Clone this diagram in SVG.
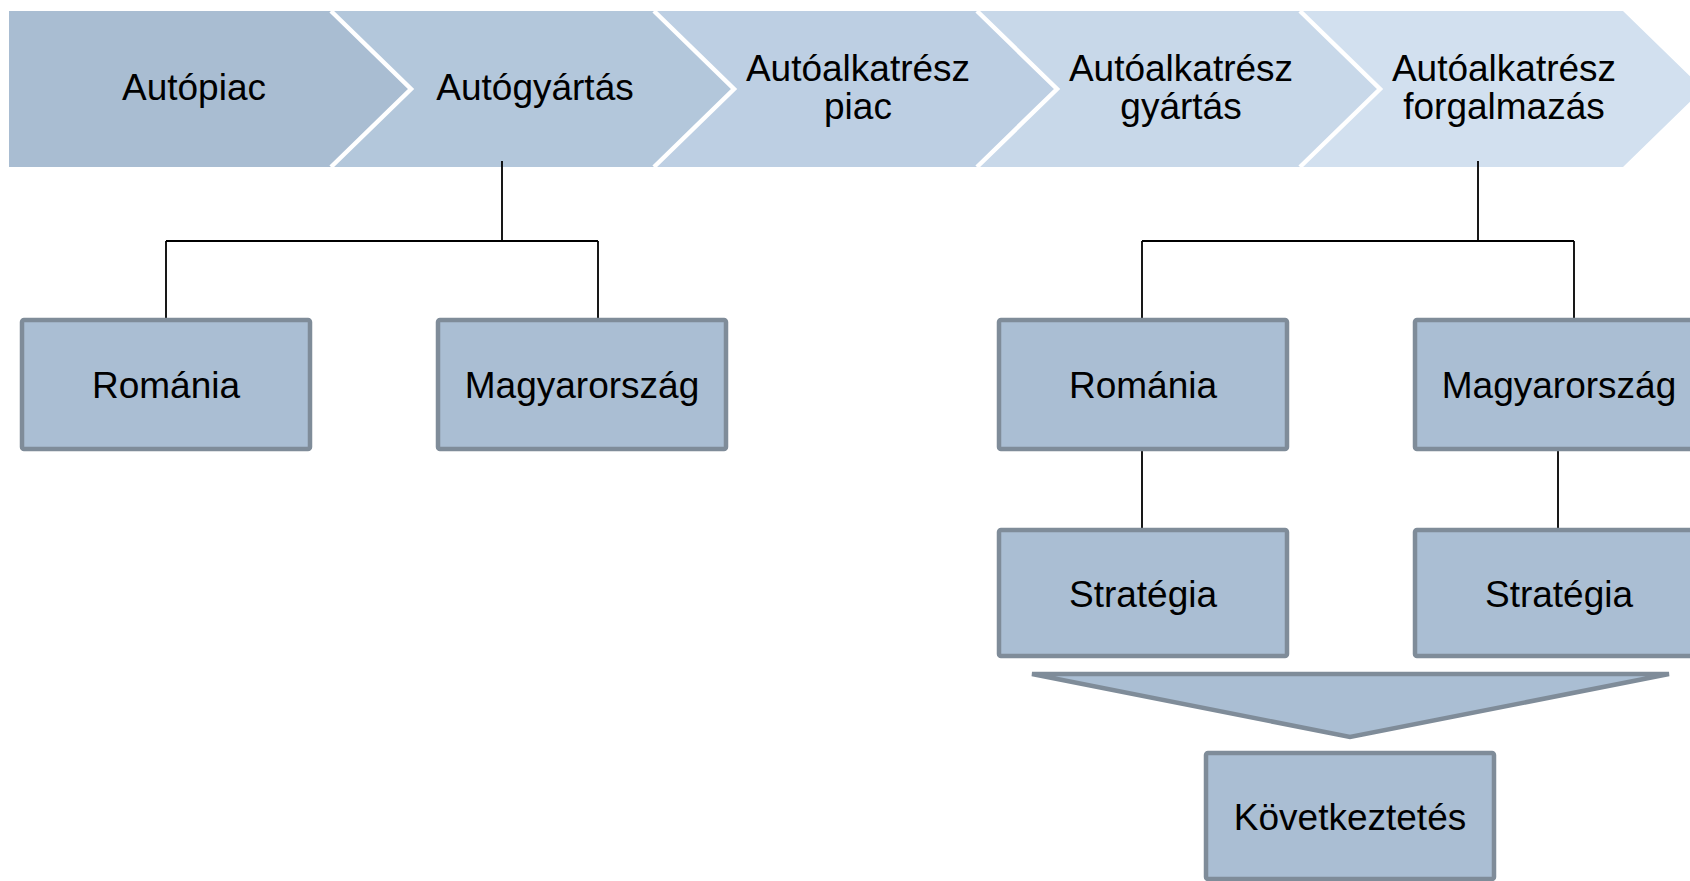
<svg xmlns="http://www.w3.org/2000/svg" width="1690" height="881" viewBox="0 0 1690 881">
<style>
text{font-family:"Liberation Sans",Arial,sans-serif;font-size:37px;fill:#000;text-anchor:middle}
.sep{fill:none;stroke:#fff;stroke-width:4.5}
.box rect{fill:#AABED3;stroke:#7F8C99;stroke-width:4.5}
.conn path{fill:none;stroke:#000;stroke-width:1.8}
</style>
<rect width="1690" height="881" fill="#fff"/>
<g id="chev1">
<polygon points="9,11 331,11 411,89 331,167 9,167" fill="#A9BDD2"/>
<text x="194" y="100">Autópiac</text>
</g>
<g id="chev2">
<polygon points="331,11 654,11 734,89 654,167 331,167 411,89" fill="#B3C7DB"/>
<polyline class="sep" points="331,11 411,89 331,167"/>
<text x="535" y="100">Autógyártás</text>
</g>
<g id="chev3">
<polygon points="654,11 977,11 1057,89 977,167 654,167 734,89" fill="#BDCFE3"/>
<polyline class="sep" points="654,11 734,89 654,167"/>
<text x="858" y="81">Autóalkatrész</text>
<text x="858" y="119">piac</text>
</g>
<g id="chev4">
<polygon points="977,11 1300,11 1380,89 1300,167 977,167 1057,89" fill="#C8D8E9"/>
<polyline class="sep" points="977,11 1057,89 977,167"/>
<text x="1181" y="81">Autóalkatrész</text>
<text x="1181" y="119">gyártás</text>
</g>
<g id="chev5">
<polygon points="1300,11 1623,11 1703,89 1623,167 1300,167 1380,89" fill="#D2E0EF"/>
<polyline class="sep" points="1300,11 1380,89 1300,167"/>
<text x="1504" y="81">Autóalkatrész</text>
<text x="1504" y="119">forgalmazás</text>
</g>
<g class="conn" id="connectors">
<path d="M502,161 V241 M166,241 H598 M166,241 V320 M598,241 V320"/>
<path d="M1478,161 V241 M1142,241 H1574 M1142,241 V320 M1574,241 V320"/>
<path d="M1142,449 V530 M1558,449 V530"/>
</g>
<g class="box" id="romania1">
<rect x="22" y="320" width="288" height="129" rx="2"/>
<text x="166" y="398">Románia</text>
</g>
<g class="box" id="magyar1">
<rect x="438" y="320" width="288" height="129" rx="2"/>
<text x="582" y="398">Magyarország</text>
</g>
<g class="box" id="romania2">
<rect x="999" y="320" width="288" height="129" rx="2"/>
<text x="1143" y="398">Románia</text>
</g>
<g class="box" id="magyar2">
<rect x="1415" y="320" width="288" height="129" rx="2"/>
<text x="1559" y="398">Magyarország</text>
</g>
<g class="box" id="strategia1">
<rect x="999" y="530" width="288" height="126" rx="2"/>
<text x="1143" y="607">Stratégia</text>
</g>
<g class="box" id="strategia2">
<rect x="1415" y="530" width="288" height="126" rx="2"/>
<text x="1559" y="607">Stratégia</text>
</g>
<g id="funnel">
<polygon points="1032,674 1669,674 1350,737" fill="#AABED3" stroke="#7F8C99" stroke-width="4.5"/>
</g>
<g class="box" id="kovetkeztetes">
<rect x="1206" y="753" width="288" height="126" rx="2"/>
<text x="1350" y="830">Következtetés</text>
</g>
</svg>
